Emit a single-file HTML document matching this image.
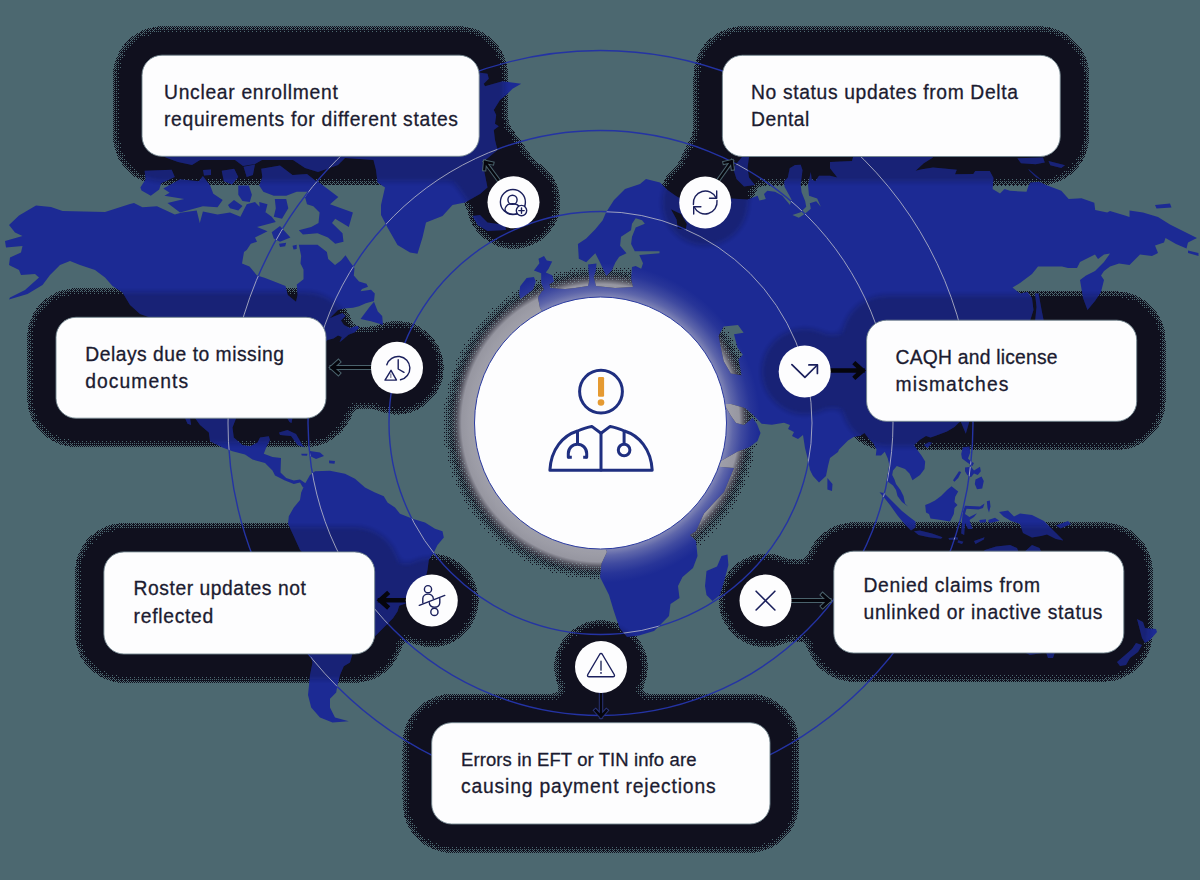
<!DOCTYPE html>
<html><head><meta charset="utf-8"><title>Diagram</title>
<style>
html,body{margin:0;padding:0;background:#4c6870;}
body{width:1200px;height:880px;overflow:hidden;font-family:"Liberation Sans",sans-serif;}
svg{display:block}
</style></head><body>
<svg width="1200" height="880" viewBox="0 0 1200 880"><defs>
<filter id="b3" x="0" y="0" width="1200" height="880" filterUnits="userSpaceOnUse" primitiveUnits="userSpaceOnUse" color-interpolation-filters="sRGB"><feGaussianBlur in="SourceAlpha" stdDeviation="5" result="bl"/><feFlood x="0" y="0" width="1" height="1" flood-color="#000" flood-opacity="0.0312" result="t00"/><feFlood x="1" y="0" width="1" height="1" flood-color="#000" flood-opacity="0.5312" result="t10"/><feFlood x="2" y="0" width="1" height="1" flood-color="#000" flood-opacity="0.1562" result="t20"/><feFlood x="3" y="0" width="1" height="1" flood-color="#000" flood-opacity="0.6562" result="t30"/><feFlood x="0" y="1" width="1" height="1" flood-color="#000" flood-opacity="0.7812" result="t01"/><feFlood x="1" y="1" width="1" height="1" flood-color="#000" flood-opacity="0.2812" result="t11"/><feFlood x="2" y="1" width="1" height="1" flood-color="#000" flood-opacity="0.9062" result="t21"/><feFlood x="3" y="1" width="1" height="1" flood-color="#000" flood-opacity="0.4062" result="t31"/><feFlood x="0" y="2" width="1" height="1" flood-color="#000" flood-opacity="0.2188" result="t02"/><feFlood x="1" y="2" width="1" height="1" flood-color="#000" flood-opacity="0.7188" result="t12"/><feFlood x="2" y="2" width="1" height="1" flood-color="#000" flood-opacity="0.0938" result="t22"/><feFlood x="3" y="2" width="1" height="1" flood-color="#000" flood-opacity="0.5938" result="t32"/><feFlood x="0" y="3" width="1" height="1" flood-color="#000" flood-opacity="0.9688" result="t03"/><feFlood x="1" y="3" width="1" height="1" flood-color="#000" flood-opacity="0.4688" result="t13"/><feFlood x="2" y="3" width="1" height="1" flood-color="#000" flood-opacity="0.8438" result="t23"/><feFlood x="3" y="3" width="1" height="1" flood-color="#000" flood-opacity="0.3438" result="t33"/><feMerge x="0" y="0" width="4" height="4" result="tile"><feMergeNode in="t00"/><feMergeNode in="t10"/><feMergeNode in="t20"/><feMergeNode in="t30"/><feMergeNode in="t01"/><feMergeNode in="t11"/><feMergeNode in="t21"/><feMergeNode in="t31"/><feMergeNode in="t02"/><feMergeNode in="t12"/><feMergeNode in="t22"/><feMergeNode in="t32"/><feMergeNode in="t03"/><feMergeNode in="t13"/><feMergeNode in="t23"/><feMergeNode in="t33"/></feMerge><feTile in="tile" x="0" y="0" width="1200" height="880" result="bayer"/><feComponentTransfer in="bl" result="rp"><feFuncA type="table" tableValues="0.000 0.000 0.000 0.000 0.000 0.000 0.000 0.000 0.000 0.000 0.500 0.518 0.536 0.554 0.571 0.589 0.607 0.625 0.643 0.661 0.679 0.696 0.714 0.732 0.750 0.768 0.786 0.804 0.821 0.839 0.857 0.875 0.893 0.911 0.929 0.946 0.964 0.982 1.000 1.000 1.000 1.000 1.000 1.000 1.000 1.000 1.000 1.000 1.000 1.000 1.000"/></feComponentTransfer><feComposite in="rp" in2="bayer" operator="arithmetic" k1="0" k2="1" k3="-1" k4="0.5" result="mix"/><feComponentTransfer in="mix" result="th"><feFuncA type="discrete" tableValues="0 1"/></feComponentTransfer><feFlood flood-color="#10101e" result="fl"/><feComposite in="fl" in2="th" operator="in"/></filter>
<filter id="b3c" x="0" y="0" width="1200" height="880" filterUnits="userSpaceOnUse" primitiveUnits="userSpaceOnUse" color-interpolation-filters="sRGB"><feGaussianBlur in="SourceAlpha" stdDeviation="8" result="bl"/><feFlood x="0" y="0" width="1" height="1" flood-color="#000" flood-opacity="0.0312" result="t00"/><feFlood x="1" y="0" width="1" height="1" flood-color="#000" flood-opacity="0.5312" result="t10"/><feFlood x="2" y="0" width="1" height="1" flood-color="#000" flood-opacity="0.1562" result="t20"/><feFlood x="3" y="0" width="1" height="1" flood-color="#000" flood-opacity="0.6562" result="t30"/><feFlood x="0" y="1" width="1" height="1" flood-color="#000" flood-opacity="0.7812" result="t01"/><feFlood x="1" y="1" width="1" height="1" flood-color="#000" flood-opacity="0.2812" result="t11"/><feFlood x="2" y="1" width="1" height="1" flood-color="#000" flood-opacity="0.9062" result="t21"/><feFlood x="3" y="1" width="1" height="1" flood-color="#000" flood-opacity="0.4062" result="t31"/><feFlood x="0" y="2" width="1" height="1" flood-color="#000" flood-opacity="0.2188" result="t02"/><feFlood x="1" y="2" width="1" height="1" flood-color="#000" flood-opacity="0.7188" result="t12"/><feFlood x="2" y="2" width="1" height="1" flood-color="#000" flood-opacity="0.0938" result="t22"/><feFlood x="3" y="2" width="1" height="1" flood-color="#000" flood-opacity="0.5938" result="t32"/><feFlood x="0" y="3" width="1" height="1" flood-color="#000" flood-opacity="0.9688" result="t03"/><feFlood x="1" y="3" width="1" height="1" flood-color="#000" flood-opacity="0.4688" result="t13"/><feFlood x="2" y="3" width="1" height="1" flood-color="#000" flood-opacity="0.8438" result="t23"/><feFlood x="3" y="3" width="1" height="1" flood-color="#000" flood-opacity="0.3438" result="t33"/><feMerge x="0" y="0" width="4" height="4" result="tile"><feMergeNode in="t00"/><feMergeNode in="t10"/><feMergeNode in="t20"/><feMergeNode in="t30"/><feMergeNode in="t01"/><feMergeNode in="t11"/><feMergeNode in="t21"/><feMergeNode in="t31"/><feMergeNode in="t02"/><feMergeNode in="t12"/><feMergeNode in="t22"/><feMergeNode in="t32"/><feMergeNode in="t03"/><feMergeNode in="t13"/><feMergeNode in="t23"/><feMergeNode in="t33"/></feMerge><feTile in="tile" x="0" y="0" width="1200" height="880" result="bayer"/><feComponentTransfer in="bl" result="rp"><feFuncA type="table" tableValues="0.000 0.000 0.000 0.000 0.000 0.000 0.000 0.013 0.040 0.067 0.094 0.121 0.148 0.175 0.202 0.229 0.256 0.283 0.310 0.337 0.364 0.391 0.418 0.445 0.472 0.499 0.527 0.554 0.581 0.608 0.635 0.662 0.689 0.716 0.743 0.770 0.797 0.824 0.851 0.878 0.905 0.932 0.959 0.986 1.000 1.000 1.000 1.000 1.000 1.000 1.000"/></feComponentTransfer><feComposite in="rp" in2="bayer" operator="arithmetic" k1="0" k2="1" k3="-1" k4="0.5" result="mix"/><feComponentTransfer in="mix" result="th"><feFuncA type="discrete" tableValues="0 1"/></feComponentTransfer><feFlood flood-color="#10101e" result="fl"/><feComposite in="fl" in2="th" operator="in"/></filter>
<filter id="b3s" x="0" y="0" width="1200" height="880" filterUnits="userSpaceOnUse" primitiveUnits="userSpaceOnUse"><feGaussianBlur stdDeviation="5"/><feComponentTransfer><feFuncA type="linear" slope="1.466" intercept="-0.233"/></feComponentTransfer></filter>
<filter id="b5" x="-20%" y="-20%" width="140%" height="140%"><feGaussianBlur stdDeviation="4"/></filter>
<clipPath id="mapclip"><path clip-rule="evenodd" d="M577.9,244.0 L586.2,238.5 L595.3,229.3 L602.7,220.2 L606.0,212.5 L614.0,200.0 L625.0,189.0 L640.0,184.0 L646.0,179.0 L660.0,182.5 L667.5,190.0 L676.0,196.0 L690.0,204.0 L710.0,206.0 L725.0,200.0 L731.0,198.6 L747.5,199.5 L757.6,195.8 L759.4,200.6 L765.8,199.1 L764.0,194.0 L767.3,190.7 L775.0,191.8 L782.3,195.8 L790.0,205.0 L791.5,199.5 L784.5,186.7 L784.2,181.2 L787.8,177.5 L789.7,168.3 L795.0,165.0 L800.7,164.7 L802.5,170.2 L800.7,184.8 L801.6,192.2 L805.2,201.3 L806.2,206.8 L800.7,212.3 L792.4,215.0 L798.8,217.8 L804.3,214.2 L810.8,208.7 L809.8,203.2 L816.2,201.3 L820.8,206.8 L817.2,198.6 L809.0,195.8 L808.0,184.8 L810.8,172.0 L811.7,179.3 L815.3,181.2 L819.0,175.7 L830.0,175.7 L837.3,177.5 L830.0,168.3 L830.0,162.0 L852.0,161.0 L853.0,157.3 L860.0,150.0 L925.0,150.0 L933.0,157.5 L923.8,163.3 L915.6,170.7 L922.0,169.2 L933.0,167.4 L944.0,168.5 L956.8,169.8 L955.0,174.3 L973.3,174.0 L975.2,171.0 L989.8,171.0 L993.5,178.0 L992.6,189.0 L1000.0,193.6 L1004.5,189.0 L1010.0,190.8 L1026.5,191.8 L1028.3,186.2 L1030.2,182.6 L1039.3,181.7 L1046.7,185.3 L1061.3,190.8 L1068.7,199.0 L1081.5,198.2 L1094.3,202.8 L1095.2,210.0 L1107.2,212.5 L1110.0,211.0 L1125.0,215.5 L1129.5,217.0 L1129.5,210.4 L1143.0,212.5 L1158.0,217.0 L1170.0,224.5 L1185.0,232.0 L1197.0,238.0 L1188.0,242.5 L1186.5,248.5 L1176.0,244.0 L1165.5,238.0 L1164.0,242.5 L1155.0,245.5 L1158.0,253.0 L1152.0,256.0 L1140.0,254.5 L1129.5,265.0 L1119.0,263.5 L1110.0,266.5 L1104.0,271.0 L1101.0,275.5 L1104.0,280.0 L1101.0,292.0 L1095.0,301.0 L1087.5,310.0 L1083.0,298.0 L1080.0,280.0 L1086.0,275.5 L1095.0,271.0 L1104.0,262.0 L1110.0,253.6 L1104.0,254.5 L1098.0,259.0 L1095.0,254.5 L1080.0,262.0 L1077.0,268.0 L1068.0,268.0 L1062.0,266.5 L1038.0,266.5 L1032.0,274.0 L1020.0,283.0 L1012.5,287.5 L1020.0,293.5 L1027.5,292.0 L1032.0,298.0 L1033.5,310.0 L1030.5,319.6 L1025.0,335.0 L1000.0,350.0 L1010.0,370.0 L990.0,390.0 L985.0,410.0 L959.0,422.5 L954.5,427.0 L947.0,431.5 L935.0,436.0 L930.5,437.5 L926.0,436.0 L920.0,439.8 L914.0,445.0 L917.0,449.5 L921.5,455.5 L925.2,461.5 L924.5,469.0 L920.0,475.0 L912.5,480.2 L909.5,473.5 L905.0,469.0 L896.8,466.0 L893.0,470.5 L892.2,475.0 L894.5,479.5 L896.0,484.0 L900.5,490.0 L903.5,496.0 L905.0,503.5 L908.0,506.5 L902.0,502.0 L897.5,496.0 L896.0,490.0 L893.0,485.5 L887.0,481.0 L887.8,475.0 L889.2,464.5 L887.8,458.5 L884.8,451.8 L881.0,455.5 L875.8,455.5 L876.5,449.5 L873.5,443.5 L869.0,439.0 L864.5,433.0 L860.0,436.0 L854.0,436.8 L848.0,440.5 L839.0,449.5 L838.0,452.0 L830.0,458.0 L828.0,466.0 L826.0,476.0 L819.0,482.5 L813.0,476.0 L810.0,470.0 L808.0,460.0 L805.0,448.0 L803.0,435.0 L798.0,439.0 L792.0,436.0 L794.0,432.0 L788.0,429.0 L790.0,425.0 L784.0,422.7 L771.8,424.7 L761.6,423.7 L752.7,414.4 L745.0,408.0 L731.0,404.0 L724.0,404.0 L731.0,416.0 L736.0,423.0 L744.0,425.0 L752.7,418.0 L757.0,424.0 L760.5,433.0 L757.5,441.0 L749.3,447.2 L737.7,451.6 L714.0,464.7 L707.6,464.0 L694.0,436.0 L681.0,411.0 L673.0,404.0 L676.0,392.0 L668.0,382.0 L640.0,384.0 L636.0,370.0 L600.0,360.0 L560.0,380.0 L545.0,385.0 L530.0,372.0 L535.0,345.0 L560.0,330.0 L548.0,320.0 L540.0,308.0 L538.0,298.0 L542.0,291.0 L550.0,288.0 L565.0,289.0 L575.0,288.0 L588.0,286.0 L590.0,278.0 L594.0,278.0 L596.0,286.0 L615.0,288.0 L633.0,287.0 L631.1,278.8 L632.0,266.9 L635.7,266.0 L641.2,268.8 L643.0,263.2 L639.3,255.0 L659.5,253.2 L659.5,251.3 L634.8,251.3 L631.1,244.0 L632.0,236.7 L635.7,227.5 L644.8,223.8 L642.1,220.2 L635.7,218.3 L632.0,223.8 L631.0,230.2 L621.0,236.7 L620.1,245.8 L626.5,253.2 L619.2,256.8 L615.5,262.3 L611.8,270.6 L606.3,276.1 L599.9,262.3 L595.3,253.2 L586.2,262.3 L578.8,258.7Z M723.7,326.6 L738.0,325.0 L743.6,332.7 L734.0,334.2 L737.4,347.4 L742.8,354.8 L738.5,359.3 L741.5,375.3 L730.9,373.6 L723.7,361.3 L720.7,347.0 L718.6,335.8Z M670.9,209.3 L681.1,213.9 L686.8,224.1 L685.7,229.8 L677.7,228.6 L676.6,219.5Z"/><path d="M19.0,215.5 L36.0,205.5 L51.0,207.0 L62.5,211.0 L105.0,212.0 L117.5,208.0 L130.0,204.0 L134.0,203.0 L142.5,207.3 L157.0,206.2 L174.8,214.6 L182.0,212.5 L196.7,210.4 L199.8,223.0 L202.9,211.5 L217.5,214.6 L230.0,212.5 L240.4,216.7 L246.7,204.2 L255.0,202.0 L263.3,210.4 L271.7,216.7 L275.8,221.9 L257.0,227.0 L267.5,231.2 L255.0,237.5 L257.0,241.7 L250.8,243.8 L246.7,250.0 L244.0,252.0 L242.0,263.5 L249.5,266.5 L257.0,275.5 L264.5,277.8 L278.0,283.0 L285.5,286.0 L287.8,295.0 L296.0,301.8 L297.5,295.0 L296.8,284.5 L303.5,279.2 L303.5,269.5 L300.5,263.5 L301.2,256.0 L298.8,244.8 L317.5,244.8 L326.9,252.0 L328.2,259.0 L335.0,265.0 L341.0,260.5 L345.5,255.2 L350.0,262.0 L354.5,268.0 L353.8,275.5 L359.0,281.5 L366.5,283.8 L368.0,286.8 L362.0,289.0 L360.5,291.2 L371.0,289.8 L374.8,293.5 L374.0,301.0 L365.8,303.2 L359.0,306.2 L353.0,307.8 L344.0,308.5 L338.0,310.0 L333.5,314.5 L329.8,318.2 L335.0,316.0 L342.5,313.0 L345.5,316.0 L341.0,320.5 L344.0,325.0 L350.0,328.0 L357.5,325.8 L359.0,328.0 L354.5,332.5 L348.5,334.8 L342.5,340.0 L339.5,342.2 L341.8,337.0 L338.0,335.5 L333.5,338.5 L327.5,340.0 L326.0,341.5 L318.0,352.0 L310.0,365.0 L300.0,380.0 L292.0,395.0 L288.0,410.0 L288.0,418.0 L292.5,418.0 L291.5,423.0 L289.5,422.0 L287.0,418.0 L283.0,412.0 L270.0,408.0 L250.0,410.0 L240.0,415.0 L236.2,418.0 L232.5,427.5 L233.8,437.5 L242.5,445.0 L250.0,446.2 L257.5,442.5 L260.0,437.5 L268.8,436.2 L270.0,440.0 L266.2,447.5 L263.8,453.8 L272.5,457.0 L281.0,458.0 L280.5,472.5 L286.2,478.0 L293.8,480.5 L300.0,479.5 L306.2,483.8 L303.0,487.5 L300.0,482.5 L293.8,484.0 L285.0,480.5 L275.0,475.5 L272.5,470.5 L265.0,463.0 L252.5,459.5 L245.0,454.5 L232.5,451.2 L222.5,447.5 L210.0,441.2 L208.8,432.5 L200.0,425.0 L195.0,418.0 L180.0,405.0 L160.0,380.0 L150.0,350.0 L148.0,330.0 L150.0,317.5 L140.0,314.0 L130.0,305.0 L122.5,292.5 L112.5,286.0 L105.0,277.5 L95.0,270.0 L80.0,265.0 L70.0,261.0 L60.0,265.0 L50.0,275.0 L42.5,285.0 L27.5,294.0 L9.0,299.5 L10.0,297.5 L25.0,290.0 L39.0,277.5 L35.0,274.0 L21.0,275.0 L19.0,270.0 L9.0,265.0 L10.0,257.5 L21.0,252.5 L22.5,246.0 L6.0,247.5 L5.0,241.0 L22.5,236.0 L15.0,232.5 L9.0,225.0Z M185.0,418.0 L190.0,418.0 L191.2,425.0 L187.5,423.8Z M144.6,170.8 L171.7,169.8 L174.8,177.0 L161.2,183.3 L159.2,189.6 L150.8,195.8 L141.5,190.6 L140.4,187.5 L145.6,179.2Z M163.3,188.5 L180.0,179.2 L198.8,181.2 L202.9,176.0 L210.2,185.4 L213.3,193.8 L222.7,200.0 L217.5,207.3 L202.9,206.2 L180.0,212.5 L167.5,203.1 L184.2,199.0 L164.4,195.8 L169.6,192.7Z M238.3,185.4 L248.8,185.4 L251.9,194.8 L249.8,202.0 L242.5,201.0 L238.3,194.8Z M228.0,205.0 L234.0,200.0 L242.5,206.0 L238.3,210.4 L230.0,208.3Z M261.2,168.8 L280.0,165.6 L292.5,175.0 L307.0,174.0 L317.5,182.3 L309.2,191.7 L296.7,191.7 L286.2,195.8 L273.8,195.8 L263.3,191.7 L259.2,185.4 L262.3,177.0Z M221.7,170.8 L234.2,168.8 L238.3,177.0 L232.0,184.4 L223.8,181.2Z M203.0,170.0 L211.0,169.5 L211.0,175.0 L204.0,175.5Z M243.5,166.7 L255.0,164.6 L252.9,175.0 L246.7,177.0Z M274.8,199.0 L286.2,199.0 L288.3,208.3 L282.0,218.8 L273.8,216.7 L275.8,208.3Z M259.2,202.0 L267.5,204.2 L265.4,212.5 L260.2,212.5Z M271.7,232.3 L280.0,226.0 L290.4,237.5 L280.0,241.7 L273.8,238.5Z M279.0,243.8 L286.2,242.7 L285.2,246.2 L280.0,246.9Z M292.5,245.8 L296.7,244.8 L296.7,249.0 L293.5,249.6Z M150.0,150.0 L372.0,150.0 L374.0,160.0 L345.0,158.0 L338.0,165.0 L318.0,172.0 L305.0,168.0 L293.0,160.0 L262.0,160.0 L255.0,164.0 L243.0,166.0 L235.0,160.0 L200.0,160.0 L192.0,165.0 L178.0,162.0 L167.0,158.0Z M305.0,196.9 L317.5,181.2 L338.3,196.9 L330.0,204.2 L352.9,212.5 L348.8,227.0 L335.2,218.8 L332.0,223.0 L342.5,233.3 L343.5,241.7 L335.2,243.8 L328.0,237.5 L317.5,233.3 L302.9,234.4 L298.8,230.2 L311.2,227.0 L318.5,223.0 L319.6,212.5 L313.3,206.2 L307.0,204.2Z M374.0,301.8 L377.8,311.5 L382.2,316.0 L383.0,325.0 L378.5,323.5 L371.0,321.2 L360.5,319.0 L365.0,313.0 L369.5,307.0Z M372.5,100.0 L400.0,68.0 L440.0,62.0 L479.0,72.5 L487.5,73.8 L488.8,78.8 L483.8,83.8 L485.0,86.2 L502.5,81.2 L521.2,83.8 L512.5,88.8 L506.2,95.0 L500.0,100.0 L493.8,110.0 L496.2,115.0 L495.0,123.8 L498.8,126.2 L493.8,130.0 L495.0,140.0 L497.5,150.0 L482.5,162.5 L485.0,175.0 L487.5,187.5 L480.0,194.0 L465.0,202.5 L452.5,205.0 L442.5,216.0 L426.0,222.5 L422.5,237.5 L417.5,253.8 L410.0,252.5 L397.5,245.0 L387.5,227.5 L381.0,215.0 L381.0,205.0 L385.0,187.5 L377.5,182.5 L376.0,170.0 L372.5,156.2Z M472.5,216.0 L480.0,215.0 L487.5,222.5 L505.0,225.0 L506.0,230.0 L487.5,231.0 L477.5,225.0Z M279.0,432.5 L287.5,430.0 L296.0,434.0 L302.5,445.0 L305.0,447.5 L297.5,445.0 L291.0,436.0 L280.0,435.0Z M310.0,451.0 L320.0,452.5 L324.0,456.0 L316.0,459.0 L310.0,456.0Z M329.0,460.5 L335.0,461.0 L334.5,463.8 L329.2,463.2Z M301.2,453.8 L307.5,453.8 L307.0,455.8 L301.8,455.5Z M305.0,483.8 L310.0,475.0 L315.0,471.2 L330.0,470.8 L345.0,473.8 L355.0,478.8 L365.0,487.5 L375.0,492.5 L383.8,496.2 L387.5,502.5 L395.0,507.5 L400.0,513.8 L412.5,518.8 L425.0,522.5 L435.0,528.8 L442.5,531.2 L443.8,537.5 L437.5,545.0 L433.8,552.5 L428.8,560.0 L427.5,570.0 L425.0,580.0 L415.0,592.5 L405.5,603.4 L399.2,605.7 L397.5,611.4 L393.0,618.2 L387.3,623.9 L374.8,636.4 L365.0,650.0 L352.5,653.8 L350.0,662.5 L343.8,666.2 L340.0,675.0 L337.5,685.0 L336.2,692.5 L330.0,698.8 L330.0,707.5 L335.0,717.5 L348.8,721.2 L332.5,722.5 L320.0,717.5 L311.2,707.5 L308.0,695.0 L310.0,675.0 L312.5,662.5 L310.0,653.8 L305.0,600.0 L302.0,552.0 L300.0,550.0 L293.8,536.2 L288.0,523.8 L288.8,516.2 L293.8,507.5 L300.0,500.0 L301.2,492.5Z M733.0,168.0 L742.0,157.0 L749.0,157.0 L747.5,168.0 L749.0,177.5 L755.0,185.0 L744.0,186.5 L736.5,179.0Z M588.0,264.5 L596.5,263.5 L596.0,270.0 L593.5,278.0 L594.0,286.0 L590.0,286.0 L589.0,276.0Z M533.9,270.6 L539.4,263.2 L538.5,258.7 L544.0,255.9 L546.8,260.5 L552.2,261.4 L548.6,268.8 L545.8,272.4 L552.2,275.2 L554.1,281.6 L549.5,284.3 L551.0,292.0 L546.8,296.0 L538.0,297.0 L544.0,290.0 L541.2,283.0 L541.2,273.3Z M520.2,286.2 L526.6,277.9 L533.9,277.0 L535.8,281.6 L533.0,289.8 L525.7,295.3 L520.2,299.0 L519.2,293.5Z M1017.3,158.2 L1043.0,157.5 L1044.8,162.4 L1035.7,164.2 L1021.0,163.3Z M1048.5,161.0 L1061.3,164.2 L1065.0,165.2 L1061.3,168.0 L1050.3,165.2Z M1028.3,168.8 L1039.3,178.0 L1041.0,180.0 L1035.7,177.0 L1029.2,170.7Z M1155.0,205.0 L1170.0,203.5 L1171.5,207.4 L1156.5,208.6Z M1188.0,250.6 L1198.5,253.0 L1198.5,256.0 L1188.0,253.0Z M1035.0,293.5 L1038.6,293.5 L1041.6,310.0 L1044.0,322.0 L1035.0,322.0 L1036.5,307.0Z M923.8,445.0 L929.0,442.0 L932.0,442.8 L927.5,448.0Z M960.5,421.0 L969.5,421.0 L965.8,433.8Z M879.5,492.2 L884.0,493.0 L893.0,502.0 L902.0,511.0 L909.5,517.0 L915.5,521.5 L915.5,527.5 L911.0,530.5 L905.0,524.5 L897.5,515.5 L890.0,505.0 L884.0,497.5Z M914.0,531.2 L920.0,530.5 L932.0,533.5 L942.5,537.2 L941.0,538.8 L929.0,537.2 L918.5,535.0Z M925.2,505.0 L929.0,503.5 L935.0,500.5 L941.0,496.0 L947.0,490.0 L951.5,486.2 L958.2,491.5 L955.2,496.8 L954.5,502.0 L957.5,505.0 L954.5,508.0 L953.8,514.0 L950.0,521.5 L941.0,520.0 L930.5,518.5 L929.0,514.0 L926.0,512.5Z M953.0,480.2 L959.0,471.2 L961.2,472.0 L958.2,478.0 L954.5,481.8Z M962.8,447.2 L969.5,446.5 L970.2,452.5 L968.0,458.5 L971.0,461.5 L974.0,463.0 L972.5,466.0 L968.0,463.0 L962.0,458.5 L961.2,454.0Z M965.0,467.5 L971.0,466.8 L974.0,470.5 L980.0,466.8 L980.8,471.2 L977.8,475.0 L974.0,473.5 L971.0,477.2 L967.2,475.0 L965.0,471.2Z M975.5,479.5 L981.5,476.5 L983.8,481.0 L982.2,488.5 L977.0,489.2 L974.8,484.0Z M965.0,505.8 L980.0,506.5 L984.5,503.5 L983.0,508.0 L978.5,509.5 L966.5,508.8 L965.0,514.0 L969.5,517.0 L977.0,513.2 L974.0,517.0 L969.5,520.0 L972.5,529.0 L968.0,529.0 L965.0,523.0 L964.2,535.0 L961.2,533.5 L962.0,520.0 L962.8,512.5Z M986.8,501.2 L989.8,500.5 L990.5,506.5 L989.0,512.5 L987.5,508.0Z M979.2,520.0 L986.0,519.2 L986.0,522.2 L980.0,522.7Z M988.2,520.0 L995.0,517.8 L999.5,520.8 L993.5,522.2 L989.0,523.0Z M948.5,538.0 L957.5,537.2 L958.2,539.5 L949.2,539.8Z M958.2,540.2 L963.5,541.8 L962.0,544.0 L957.5,542.5Z M974.0,541.0 L984.5,537.2 L983.8,539.5 L975.5,544.0Z M999.0,512.0 L1008.0,510.5 L1014.0,516.5 L1020.0,513.5 L1032.0,515.0 L1044.0,521.0 L1050.0,527.0 L1056.0,533.0 L1063.5,540.5 L1056.0,539.0 L1047.0,534.5 L1041.0,536.0 L1032.0,537.5 L1023.0,533.0 L1020.0,524.0 L1011.0,521.0 L1003.5,516.5Z M1056.0,525.5 L1068.0,521.0 L1071.0,524.0 L1060.5,528.5Z M827.4,478.0 L832.5,484.0 L832.0,491.0 L827.4,489.5Z M996.0,546.5 L1010.0,545.0 L1017.0,548.0 L1020.0,556.0 L1032.0,545.0 L1039.5,548.0 L1050.0,570.0 L1075.0,600.0 L1080.0,630.0 L1060.0,650.0 L1030.0,655.0 L1000.0,640.0 L960.0,640.0 L935.0,650.0 L930.0,610.0 L940.0,580.0 L970.0,565.0 L985.0,550.0Z M1046.0,652.0 L1055.0,652.0 L1053.0,658.0 L1048.0,658.0Z M1137.0,619.0 L1143.0,622.0 L1145.0,628.0 L1156.0,629.0 L1157.0,632.0 L1150.0,640.0 L1145.0,643.0 L1142.0,638.0Z M1136.0,643.0 L1142.0,645.0 L1138.0,652.0 L1130.0,658.0 L1126.0,665.0 L1120.0,666.0 L1117.0,662.0 L1124.0,656.0 L1132.0,649.0Z M1040.0,330.0 L1050.0,335.0 L1045.0,360.0 L1030.0,385.0 L1010.0,395.0 L1005.0,390.0 L1025.0,372.0 L1035.0,350.0Z M544.0,383.0 L560.0,378.0 L597.0,379.0 L610.0,390.0 L631.0,397.0 L664.0,400.0 L673.0,404.0 L688.0,436.0 L700.0,455.0 L708.0,466.0 L734.0,468.0 L724.0,492.0 L704.0,513.5 L696.0,531.0 L690.0,535.0 L696.0,541.0 L697.5,556.0 L693.0,568.0 L682.5,577.0 L678.0,586.0 L679.5,598.0 L670.5,604.0 L669.0,616.0 L660.0,625.0 L654.0,631.0 L639.0,635.5 L627.0,637.0 L619.5,628.0 L613.5,610.0 L609.0,595.0 L600.0,577.0 L601.5,563.5 L607.0,552.0 L598.0,530.0 L594.0,510.0 L594.0,496.0 L575.0,492.0 L551.0,492.0 L520.5,482.0 L507.0,457.0 L510.5,432.0 L530.6,407.0Z M706.5,571.0 L717.0,566.5 L721.5,556.0 L727.5,554.5 L728.4,565.0 L724.5,580.0 L720.0,595.0 L712.5,601.0 L706.5,595.0 L705.0,586.0Z"/></clipPath>
<mask id="notmap" maskUnits="userSpaceOnUse" x="0" y="0" width="1200" height="880"><rect width="1200" height="880" fill="#fff"/><path d="M577.9,244.0 L586.2,238.5 L595.3,229.3 L602.7,220.2 L606.0,212.5 L614.0,200.0 L625.0,189.0 L640.0,184.0 L646.0,179.0 L660.0,182.5 L667.5,190.0 L676.0,196.0 L690.0,204.0 L710.0,206.0 L725.0,200.0 L731.0,198.6 L747.5,199.5 L757.6,195.8 L759.4,200.6 L765.8,199.1 L764.0,194.0 L767.3,190.7 L775.0,191.8 L782.3,195.8 L790.0,205.0 L791.5,199.5 L784.5,186.7 L784.2,181.2 L787.8,177.5 L789.7,168.3 L795.0,165.0 L800.7,164.7 L802.5,170.2 L800.7,184.8 L801.6,192.2 L805.2,201.3 L806.2,206.8 L800.7,212.3 L792.4,215.0 L798.8,217.8 L804.3,214.2 L810.8,208.7 L809.8,203.2 L816.2,201.3 L820.8,206.8 L817.2,198.6 L809.0,195.8 L808.0,184.8 L810.8,172.0 L811.7,179.3 L815.3,181.2 L819.0,175.7 L830.0,175.7 L837.3,177.5 L830.0,168.3 L830.0,162.0 L852.0,161.0 L853.0,157.3 L860.0,150.0 L925.0,150.0 L933.0,157.5 L923.8,163.3 L915.6,170.7 L922.0,169.2 L933.0,167.4 L944.0,168.5 L956.8,169.8 L955.0,174.3 L973.3,174.0 L975.2,171.0 L989.8,171.0 L993.5,178.0 L992.6,189.0 L1000.0,193.6 L1004.5,189.0 L1010.0,190.8 L1026.5,191.8 L1028.3,186.2 L1030.2,182.6 L1039.3,181.7 L1046.7,185.3 L1061.3,190.8 L1068.7,199.0 L1081.5,198.2 L1094.3,202.8 L1095.2,210.0 L1107.2,212.5 L1110.0,211.0 L1125.0,215.5 L1129.5,217.0 L1129.5,210.4 L1143.0,212.5 L1158.0,217.0 L1170.0,224.5 L1185.0,232.0 L1197.0,238.0 L1188.0,242.5 L1186.5,248.5 L1176.0,244.0 L1165.5,238.0 L1164.0,242.5 L1155.0,245.5 L1158.0,253.0 L1152.0,256.0 L1140.0,254.5 L1129.5,265.0 L1119.0,263.5 L1110.0,266.5 L1104.0,271.0 L1101.0,275.5 L1104.0,280.0 L1101.0,292.0 L1095.0,301.0 L1087.5,310.0 L1083.0,298.0 L1080.0,280.0 L1086.0,275.5 L1095.0,271.0 L1104.0,262.0 L1110.0,253.6 L1104.0,254.5 L1098.0,259.0 L1095.0,254.5 L1080.0,262.0 L1077.0,268.0 L1068.0,268.0 L1062.0,266.5 L1038.0,266.5 L1032.0,274.0 L1020.0,283.0 L1012.5,287.5 L1020.0,293.5 L1027.5,292.0 L1032.0,298.0 L1033.5,310.0 L1030.5,319.6 L1025.0,335.0 L1000.0,350.0 L1010.0,370.0 L990.0,390.0 L985.0,410.0 L959.0,422.5 L954.5,427.0 L947.0,431.5 L935.0,436.0 L930.5,437.5 L926.0,436.0 L920.0,439.8 L914.0,445.0 L917.0,449.5 L921.5,455.5 L925.2,461.5 L924.5,469.0 L920.0,475.0 L912.5,480.2 L909.5,473.5 L905.0,469.0 L896.8,466.0 L893.0,470.5 L892.2,475.0 L894.5,479.5 L896.0,484.0 L900.5,490.0 L903.5,496.0 L905.0,503.5 L908.0,506.5 L902.0,502.0 L897.5,496.0 L896.0,490.0 L893.0,485.5 L887.0,481.0 L887.8,475.0 L889.2,464.5 L887.8,458.5 L884.8,451.8 L881.0,455.5 L875.8,455.5 L876.5,449.5 L873.5,443.5 L869.0,439.0 L864.5,433.0 L860.0,436.0 L854.0,436.8 L848.0,440.5 L839.0,449.5 L838.0,452.0 L830.0,458.0 L828.0,466.0 L826.0,476.0 L819.0,482.5 L813.0,476.0 L810.0,470.0 L808.0,460.0 L805.0,448.0 L803.0,435.0 L798.0,439.0 L792.0,436.0 L794.0,432.0 L788.0,429.0 L790.0,425.0 L784.0,422.7 L771.8,424.7 L761.6,423.7 L752.7,414.4 L745.0,408.0 L731.0,404.0 L724.0,404.0 L731.0,416.0 L736.0,423.0 L744.0,425.0 L752.7,418.0 L757.0,424.0 L760.5,433.0 L757.5,441.0 L749.3,447.2 L737.7,451.6 L714.0,464.7 L707.6,464.0 L694.0,436.0 L681.0,411.0 L673.0,404.0 L676.0,392.0 L668.0,382.0 L640.0,384.0 L636.0,370.0 L600.0,360.0 L560.0,380.0 L545.0,385.0 L530.0,372.0 L535.0,345.0 L560.0,330.0 L548.0,320.0 L540.0,308.0 L538.0,298.0 L542.0,291.0 L550.0,288.0 L565.0,289.0 L575.0,288.0 L588.0,286.0 L590.0,278.0 L594.0,278.0 L596.0,286.0 L615.0,288.0 L633.0,287.0 L631.1,278.8 L632.0,266.9 L635.7,266.0 L641.2,268.8 L643.0,263.2 L639.3,255.0 L659.5,253.2 L659.5,251.3 L634.8,251.3 L631.1,244.0 L632.0,236.7 L635.7,227.5 L644.8,223.8 L642.1,220.2 L635.7,218.3 L632.0,223.8 L631.0,230.2 L621.0,236.7 L620.1,245.8 L626.5,253.2 L619.2,256.8 L615.5,262.3 L611.8,270.6 L606.3,276.1 L599.9,262.3 L595.3,253.2 L586.2,262.3 L578.8,258.7Z M723.7,326.6 L738.0,325.0 L743.6,332.7 L734.0,334.2 L737.4,347.4 L742.8,354.8 L738.5,359.3 L741.5,375.3 L730.9,373.6 L723.7,361.3 L720.7,347.0 L718.6,335.8Z M670.9,209.3 L681.1,213.9 L686.8,224.1 L685.7,229.8 L677.7,228.6 L676.6,219.5Z" fill="#000" fill-rule="evenodd"/><path d="M19.0,215.5 L36.0,205.5 L51.0,207.0 L62.5,211.0 L105.0,212.0 L117.5,208.0 L130.0,204.0 L134.0,203.0 L142.5,207.3 L157.0,206.2 L174.8,214.6 L182.0,212.5 L196.7,210.4 L199.8,223.0 L202.9,211.5 L217.5,214.6 L230.0,212.5 L240.4,216.7 L246.7,204.2 L255.0,202.0 L263.3,210.4 L271.7,216.7 L275.8,221.9 L257.0,227.0 L267.5,231.2 L255.0,237.5 L257.0,241.7 L250.8,243.8 L246.7,250.0 L244.0,252.0 L242.0,263.5 L249.5,266.5 L257.0,275.5 L264.5,277.8 L278.0,283.0 L285.5,286.0 L287.8,295.0 L296.0,301.8 L297.5,295.0 L296.8,284.5 L303.5,279.2 L303.5,269.5 L300.5,263.5 L301.2,256.0 L298.8,244.8 L317.5,244.8 L326.9,252.0 L328.2,259.0 L335.0,265.0 L341.0,260.5 L345.5,255.2 L350.0,262.0 L354.5,268.0 L353.8,275.5 L359.0,281.5 L366.5,283.8 L368.0,286.8 L362.0,289.0 L360.5,291.2 L371.0,289.8 L374.8,293.5 L374.0,301.0 L365.8,303.2 L359.0,306.2 L353.0,307.8 L344.0,308.5 L338.0,310.0 L333.5,314.5 L329.8,318.2 L335.0,316.0 L342.5,313.0 L345.5,316.0 L341.0,320.5 L344.0,325.0 L350.0,328.0 L357.5,325.8 L359.0,328.0 L354.5,332.5 L348.5,334.8 L342.5,340.0 L339.5,342.2 L341.8,337.0 L338.0,335.5 L333.5,338.5 L327.5,340.0 L326.0,341.5 L318.0,352.0 L310.0,365.0 L300.0,380.0 L292.0,395.0 L288.0,410.0 L288.0,418.0 L292.5,418.0 L291.5,423.0 L289.5,422.0 L287.0,418.0 L283.0,412.0 L270.0,408.0 L250.0,410.0 L240.0,415.0 L236.2,418.0 L232.5,427.5 L233.8,437.5 L242.5,445.0 L250.0,446.2 L257.5,442.5 L260.0,437.5 L268.8,436.2 L270.0,440.0 L266.2,447.5 L263.8,453.8 L272.5,457.0 L281.0,458.0 L280.5,472.5 L286.2,478.0 L293.8,480.5 L300.0,479.5 L306.2,483.8 L303.0,487.5 L300.0,482.5 L293.8,484.0 L285.0,480.5 L275.0,475.5 L272.5,470.5 L265.0,463.0 L252.5,459.5 L245.0,454.5 L232.5,451.2 L222.5,447.5 L210.0,441.2 L208.8,432.5 L200.0,425.0 L195.0,418.0 L180.0,405.0 L160.0,380.0 L150.0,350.0 L148.0,330.0 L150.0,317.5 L140.0,314.0 L130.0,305.0 L122.5,292.5 L112.5,286.0 L105.0,277.5 L95.0,270.0 L80.0,265.0 L70.0,261.0 L60.0,265.0 L50.0,275.0 L42.5,285.0 L27.5,294.0 L9.0,299.5 L10.0,297.5 L25.0,290.0 L39.0,277.5 L35.0,274.0 L21.0,275.0 L19.0,270.0 L9.0,265.0 L10.0,257.5 L21.0,252.5 L22.5,246.0 L6.0,247.5 L5.0,241.0 L22.5,236.0 L15.0,232.5 L9.0,225.0Z M185.0,418.0 L190.0,418.0 L191.2,425.0 L187.5,423.8Z M144.6,170.8 L171.7,169.8 L174.8,177.0 L161.2,183.3 L159.2,189.6 L150.8,195.8 L141.5,190.6 L140.4,187.5 L145.6,179.2Z M163.3,188.5 L180.0,179.2 L198.8,181.2 L202.9,176.0 L210.2,185.4 L213.3,193.8 L222.7,200.0 L217.5,207.3 L202.9,206.2 L180.0,212.5 L167.5,203.1 L184.2,199.0 L164.4,195.8 L169.6,192.7Z M238.3,185.4 L248.8,185.4 L251.9,194.8 L249.8,202.0 L242.5,201.0 L238.3,194.8Z M228.0,205.0 L234.0,200.0 L242.5,206.0 L238.3,210.4 L230.0,208.3Z M261.2,168.8 L280.0,165.6 L292.5,175.0 L307.0,174.0 L317.5,182.3 L309.2,191.7 L296.7,191.7 L286.2,195.8 L273.8,195.8 L263.3,191.7 L259.2,185.4 L262.3,177.0Z M221.7,170.8 L234.2,168.8 L238.3,177.0 L232.0,184.4 L223.8,181.2Z M203.0,170.0 L211.0,169.5 L211.0,175.0 L204.0,175.5Z M243.5,166.7 L255.0,164.6 L252.9,175.0 L246.7,177.0Z M274.8,199.0 L286.2,199.0 L288.3,208.3 L282.0,218.8 L273.8,216.7 L275.8,208.3Z M259.2,202.0 L267.5,204.2 L265.4,212.5 L260.2,212.5Z M271.7,232.3 L280.0,226.0 L290.4,237.5 L280.0,241.7 L273.8,238.5Z M279.0,243.8 L286.2,242.7 L285.2,246.2 L280.0,246.9Z M292.5,245.8 L296.7,244.8 L296.7,249.0 L293.5,249.6Z M150.0,150.0 L372.0,150.0 L374.0,160.0 L345.0,158.0 L338.0,165.0 L318.0,172.0 L305.0,168.0 L293.0,160.0 L262.0,160.0 L255.0,164.0 L243.0,166.0 L235.0,160.0 L200.0,160.0 L192.0,165.0 L178.0,162.0 L167.0,158.0Z M305.0,196.9 L317.5,181.2 L338.3,196.9 L330.0,204.2 L352.9,212.5 L348.8,227.0 L335.2,218.8 L332.0,223.0 L342.5,233.3 L343.5,241.7 L335.2,243.8 L328.0,237.5 L317.5,233.3 L302.9,234.4 L298.8,230.2 L311.2,227.0 L318.5,223.0 L319.6,212.5 L313.3,206.2 L307.0,204.2Z M374.0,301.8 L377.8,311.5 L382.2,316.0 L383.0,325.0 L378.5,323.5 L371.0,321.2 L360.5,319.0 L365.0,313.0 L369.5,307.0Z M372.5,100.0 L400.0,68.0 L440.0,62.0 L479.0,72.5 L487.5,73.8 L488.8,78.8 L483.8,83.8 L485.0,86.2 L502.5,81.2 L521.2,83.8 L512.5,88.8 L506.2,95.0 L500.0,100.0 L493.8,110.0 L496.2,115.0 L495.0,123.8 L498.8,126.2 L493.8,130.0 L495.0,140.0 L497.5,150.0 L482.5,162.5 L485.0,175.0 L487.5,187.5 L480.0,194.0 L465.0,202.5 L452.5,205.0 L442.5,216.0 L426.0,222.5 L422.5,237.5 L417.5,253.8 L410.0,252.5 L397.5,245.0 L387.5,227.5 L381.0,215.0 L381.0,205.0 L385.0,187.5 L377.5,182.5 L376.0,170.0 L372.5,156.2Z M472.5,216.0 L480.0,215.0 L487.5,222.5 L505.0,225.0 L506.0,230.0 L487.5,231.0 L477.5,225.0Z M279.0,432.5 L287.5,430.0 L296.0,434.0 L302.5,445.0 L305.0,447.5 L297.5,445.0 L291.0,436.0 L280.0,435.0Z M310.0,451.0 L320.0,452.5 L324.0,456.0 L316.0,459.0 L310.0,456.0Z M329.0,460.5 L335.0,461.0 L334.5,463.8 L329.2,463.2Z M301.2,453.8 L307.5,453.8 L307.0,455.8 L301.8,455.5Z M305.0,483.8 L310.0,475.0 L315.0,471.2 L330.0,470.8 L345.0,473.8 L355.0,478.8 L365.0,487.5 L375.0,492.5 L383.8,496.2 L387.5,502.5 L395.0,507.5 L400.0,513.8 L412.5,518.8 L425.0,522.5 L435.0,528.8 L442.5,531.2 L443.8,537.5 L437.5,545.0 L433.8,552.5 L428.8,560.0 L427.5,570.0 L425.0,580.0 L415.0,592.5 L405.5,603.4 L399.2,605.7 L397.5,611.4 L393.0,618.2 L387.3,623.9 L374.8,636.4 L365.0,650.0 L352.5,653.8 L350.0,662.5 L343.8,666.2 L340.0,675.0 L337.5,685.0 L336.2,692.5 L330.0,698.8 L330.0,707.5 L335.0,717.5 L348.8,721.2 L332.5,722.5 L320.0,717.5 L311.2,707.5 L308.0,695.0 L310.0,675.0 L312.5,662.5 L310.0,653.8 L305.0,600.0 L302.0,552.0 L300.0,550.0 L293.8,536.2 L288.0,523.8 L288.8,516.2 L293.8,507.5 L300.0,500.0 L301.2,492.5Z M733.0,168.0 L742.0,157.0 L749.0,157.0 L747.5,168.0 L749.0,177.5 L755.0,185.0 L744.0,186.5 L736.5,179.0Z M588.0,264.5 L596.5,263.5 L596.0,270.0 L593.5,278.0 L594.0,286.0 L590.0,286.0 L589.0,276.0Z M533.9,270.6 L539.4,263.2 L538.5,258.7 L544.0,255.9 L546.8,260.5 L552.2,261.4 L548.6,268.8 L545.8,272.4 L552.2,275.2 L554.1,281.6 L549.5,284.3 L551.0,292.0 L546.8,296.0 L538.0,297.0 L544.0,290.0 L541.2,283.0 L541.2,273.3Z M520.2,286.2 L526.6,277.9 L533.9,277.0 L535.8,281.6 L533.0,289.8 L525.7,295.3 L520.2,299.0 L519.2,293.5Z M1017.3,158.2 L1043.0,157.5 L1044.8,162.4 L1035.7,164.2 L1021.0,163.3Z M1048.5,161.0 L1061.3,164.2 L1065.0,165.2 L1061.3,168.0 L1050.3,165.2Z M1028.3,168.8 L1039.3,178.0 L1041.0,180.0 L1035.7,177.0 L1029.2,170.7Z M1155.0,205.0 L1170.0,203.5 L1171.5,207.4 L1156.5,208.6Z M1188.0,250.6 L1198.5,253.0 L1198.5,256.0 L1188.0,253.0Z M1035.0,293.5 L1038.6,293.5 L1041.6,310.0 L1044.0,322.0 L1035.0,322.0 L1036.5,307.0Z M923.8,445.0 L929.0,442.0 L932.0,442.8 L927.5,448.0Z M960.5,421.0 L969.5,421.0 L965.8,433.8Z M879.5,492.2 L884.0,493.0 L893.0,502.0 L902.0,511.0 L909.5,517.0 L915.5,521.5 L915.5,527.5 L911.0,530.5 L905.0,524.5 L897.5,515.5 L890.0,505.0 L884.0,497.5Z M914.0,531.2 L920.0,530.5 L932.0,533.5 L942.5,537.2 L941.0,538.8 L929.0,537.2 L918.5,535.0Z M925.2,505.0 L929.0,503.5 L935.0,500.5 L941.0,496.0 L947.0,490.0 L951.5,486.2 L958.2,491.5 L955.2,496.8 L954.5,502.0 L957.5,505.0 L954.5,508.0 L953.8,514.0 L950.0,521.5 L941.0,520.0 L930.5,518.5 L929.0,514.0 L926.0,512.5Z M953.0,480.2 L959.0,471.2 L961.2,472.0 L958.2,478.0 L954.5,481.8Z M962.8,447.2 L969.5,446.5 L970.2,452.5 L968.0,458.5 L971.0,461.5 L974.0,463.0 L972.5,466.0 L968.0,463.0 L962.0,458.5 L961.2,454.0Z M965.0,467.5 L971.0,466.8 L974.0,470.5 L980.0,466.8 L980.8,471.2 L977.8,475.0 L974.0,473.5 L971.0,477.2 L967.2,475.0 L965.0,471.2Z M975.5,479.5 L981.5,476.5 L983.8,481.0 L982.2,488.5 L977.0,489.2 L974.8,484.0Z M965.0,505.8 L980.0,506.5 L984.5,503.5 L983.0,508.0 L978.5,509.5 L966.5,508.8 L965.0,514.0 L969.5,517.0 L977.0,513.2 L974.0,517.0 L969.5,520.0 L972.5,529.0 L968.0,529.0 L965.0,523.0 L964.2,535.0 L961.2,533.5 L962.0,520.0 L962.8,512.5Z M986.8,501.2 L989.8,500.5 L990.5,506.5 L989.0,512.5 L987.5,508.0Z M979.2,520.0 L986.0,519.2 L986.0,522.2 L980.0,522.7Z M988.2,520.0 L995.0,517.8 L999.5,520.8 L993.5,522.2 L989.0,523.0Z M948.5,538.0 L957.5,537.2 L958.2,539.5 L949.2,539.8Z M958.2,540.2 L963.5,541.8 L962.0,544.0 L957.5,542.5Z M974.0,541.0 L984.5,537.2 L983.8,539.5 L975.5,544.0Z M999.0,512.0 L1008.0,510.5 L1014.0,516.5 L1020.0,513.5 L1032.0,515.0 L1044.0,521.0 L1050.0,527.0 L1056.0,533.0 L1063.5,540.5 L1056.0,539.0 L1047.0,534.5 L1041.0,536.0 L1032.0,537.5 L1023.0,533.0 L1020.0,524.0 L1011.0,521.0 L1003.5,516.5Z M1056.0,525.5 L1068.0,521.0 L1071.0,524.0 L1060.5,528.5Z M827.4,478.0 L832.5,484.0 L832.0,491.0 L827.4,489.5Z M996.0,546.5 L1010.0,545.0 L1017.0,548.0 L1020.0,556.0 L1032.0,545.0 L1039.5,548.0 L1050.0,570.0 L1075.0,600.0 L1080.0,630.0 L1060.0,650.0 L1030.0,655.0 L1000.0,640.0 L960.0,640.0 L935.0,650.0 L930.0,610.0 L940.0,580.0 L970.0,565.0 L985.0,550.0Z M1046.0,652.0 L1055.0,652.0 L1053.0,658.0 L1048.0,658.0Z M1137.0,619.0 L1143.0,622.0 L1145.0,628.0 L1156.0,629.0 L1157.0,632.0 L1150.0,640.0 L1145.0,643.0 L1142.0,638.0Z M1136.0,643.0 L1142.0,645.0 L1138.0,652.0 L1130.0,658.0 L1126.0,665.0 L1120.0,666.0 L1117.0,662.0 L1124.0,656.0 L1132.0,649.0Z M1040.0,330.0 L1050.0,335.0 L1045.0,360.0 L1030.0,385.0 L1010.0,395.0 L1005.0,390.0 L1025.0,372.0 L1035.0,350.0Z M544.0,383.0 L560.0,378.0 L597.0,379.0 L610.0,390.0 L631.0,397.0 L664.0,400.0 L673.0,404.0 L688.0,436.0 L700.0,455.0 L708.0,466.0 L734.0,468.0 L724.0,492.0 L704.0,513.5 L696.0,531.0 L690.0,535.0 L696.0,541.0 L697.5,556.0 L693.0,568.0 L682.5,577.0 L678.0,586.0 L679.5,598.0 L670.5,604.0 L669.0,616.0 L660.0,625.0 L654.0,631.0 L639.0,635.5 L627.0,637.0 L619.5,628.0 L613.5,610.0 L609.0,595.0 L600.0,577.0 L601.5,563.5 L607.0,552.0 L598.0,530.0 L594.0,510.0 L594.0,496.0 L575.0,492.0 L551.0,492.0 L520.5,482.0 L507.0,457.0 L510.5,432.0 L530.6,407.0Z M706.5,571.0 L717.0,566.5 L721.5,556.0 L727.5,554.5 L728.4,565.0 L724.5,580.0 L720.0,595.0 L712.5,601.0 L706.5,595.0 L705.0,586.0Z" fill="#000"/></mask>
<radialGradient id="cdark" cx="600.5" cy="423" r="160" gradientUnits="userSpaceOnUse">
<stop offset="0.895" stop-color="#10101e" stop-opacity="1"/>
<stop offset="0.93" stop-color="#10101e" stop-opacity="0.8"/>
<stop offset="0.96" stop-color="#10101e" stop-opacity="0.45"/>
<stop offset="0.995" stop-color="#10101e" stop-opacity="0"/>
</radialGradient>
<radialGradient id="glow" cx="600.5" cy="423" r="156" gradientUnits="userSpaceOnUse">
<stop offset="0.80" stop-color="#a6a6b0" stop-opacity="0.97"/>
<stop offset="0.89" stop-color="#a6a6b0" stop-opacity="0.9"/>
<stop offset="0.925" stop-color="#a6a6b0" stop-opacity="0.4"/>
<stop offset="0.96" stop-color="#a6a6b0" stop-opacity="0"/>
</radialGradient>
<radialGradient id="glowm" cx="600.5" cy="423" r="170" gradientUnits="userSpaceOnUse">
<stop offset="0.74" stop-color="#a0a2c0" stop-opacity="0.78"/>
<stop offset="0.78" stop-color="#a0a2c0" stop-opacity="0.5"/>
<stop offset="0.83" stop-color="#a0a2c0" stop-opacity="0.27"/>
<stop offset="0.885" stop-color="#a0a2c0" stop-opacity="0.09"/>
<stop offset="0.94" stop-color="#a0a2c0" stop-opacity="0"/>
</radialGradient>
</defs><rect width="1200" height="880" fill="#4c6870"/><g filter="url(#b3)"><rect x="117" y="30.200000000000003" width="387.2" height="151.1" rx="45" fill="#10101e"/>
<rect x="697.4" y="30.299999999999997" width="387.8" height="151.2" rx="45" fill="#10101e"/>
<rect x="31" y="292.3" width="320" height="150.9" rx="45" fill="#10101e"/>
<rect x="841.6" y="295.2" width="320.1" height="151.1" rx="45" fill="#10101e"/>
<rect x="78.9" y="526.9" width="320.8" height="152.1" rx="45" fill="#10101e"/>
<rect x="808.8" y="526.2" width="340" height="151.8" rx="45" fill="#10101e"/>
<rect x="406.7" y="697.7" width="388.3" height="151.3" rx="45" fill="#10101e"/>
<circle cx="513.5" cy="202.3" r="43" fill="#10101e"/>
<circle cx="705.2" cy="202.5" r="43" fill="#10101e"/>
<circle cx="397" cy="367.8" r="43" fill="#10101e"/>
<circle cx="804.7" cy="371.4" r="43" fill="#10101e"/>
<circle cx="431.8" cy="600.6" r="43" fill="#10101e"/>
<circle cx="765.5" cy="600.6" r="43" fill="#10101e"/>
<circle cx="601" cy="666.9" r="43" fill="#10101e"/>
<line x1="513.5" y1="202.3" x2="470" y2="140" stroke="#10101e" stroke-width="74"/>
<line x1="705.2" y1="202.5" x2="735" y2="140" stroke="#10101e" stroke-width="74"/>
<line x1="397" y1="367.8" x2="320" y2="367.8" stroke="#10101e" stroke-width="74"/>
<line x1="804.7" y1="371.4" x2="870" y2="371.4" stroke="#10101e" stroke-width="74"/>
<line x1="431.8" y1="600.6" x2="370" y2="600.6" stroke="#10101e" stroke-width="74"/>
<line x1="765.5" y1="600.6" x2="840" y2="600.6" stroke="#10101e" stroke-width="74"/>
<line x1="601" y1="666.9" x2="601" y2="730" stroke="#10101e" stroke-width="74"/>
<path d="M555,700 Q575,690 580,670 H622 Q627,690 647,700 Z" fill="#10101e"/></g><g filter="url(#b3c)"><circle cx="600.5" cy="423" r="150" fill="#10101e"/></g><circle cx="600.5" cy="423" r="211.5" fill="none" stroke="#2433a4" stroke-width="1.4" opacity="1"/>
<circle cx="600.5" cy="423" r="292.5" fill="none" stroke="#2433a4" stroke-width="1.4" opacity="1"/>
<circle cx="600.5" cy="423" r="372.5" fill="none" stroke="#2433a4" stroke-width="1.4" opacity="1"/><path d="M577.9,244.0 L586.2,238.5 L595.3,229.3 L602.7,220.2 L606.0,212.5 L614.0,200.0 L625.0,189.0 L640.0,184.0 L646.0,179.0 L660.0,182.5 L667.5,190.0 L676.0,196.0 L690.0,204.0 L710.0,206.0 L725.0,200.0 L731.0,198.6 L747.5,199.5 L757.6,195.8 L759.4,200.6 L765.8,199.1 L764.0,194.0 L767.3,190.7 L775.0,191.8 L782.3,195.8 L790.0,205.0 L791.5,199.5 L784.5,186.7 L784.2,181.2 L787.8,177.5 L789.7,168.3 L795.0,165.0 L800.7,164.7 L802.5,170.2 L800.7,184.8 L801.6,192.2 L805.2,201.3 L806.2,206.8 L800.7,212.3 L792.4,215.0 L798.8,217.8 L804.3,214.2 L810.8,208.7 L809.8,203.2 L816.2,201.3 L820.8,206.8 L817.2,198.6 L809.0,195.8 L808.0,184.8 L810.8,172.0 L811.7,179.3 L815.3,181.2 L819.0,175.7 L830.0,175.7 L837.3,177.5 L830.0,168.3 L830.0,162.0 L852.0,161.0 L853.0,157.3 L860.0,150.0 L925.0,150.0 L933.0,157.5 L923.8,163.3 L915.6,170.7 L922.0,169.2 L933.0,167.4 L944.0,168.5 L956.8,169.8 L955.0,174.3 L973.3,174.0 L975.2,171.0 L989.8,171.0 L993.5,178.0 L992.6,189.0 L1000.0,193.6 L1004.5,189.0 L1010.0,190.8 L1026.5,191.8 L1028.3,186.2 L1030.2,182.6 L1039.3,181.7 L1046.7,185.3 L1061.3,190.8 L1068.7,199.0 L1081.5,198.2 L1094.3,202.8 L1095.2,210.0 L1107.2,212.5 L1110.0,211.0 L1125.0,215.5 L1129.5,217.0 L1129.5,210.4 L1143.0,212.5 L1158.0,217.0 L1170.0,224.5 L1185.0,232.0 L1197.0,238.0 L1188.0,242.5 L1186.5,248.5 L1176.0,244.0 L1165.5,238.0 L1164.0,242.5 L1155.0,245.5 L1158.0,253.0 L1152.0,256.0 L1140.0,254.5 L1129.5,265.0 L1119.0,263.5 L1110.0,266.5 L1104.0,271.0 L1101.0,275.5 L1104.0,280.0 L1101.0,292.0 L1095.0,301.0 L1087.5,310.0 L1083.0,298.0 L1080.0,280.0 L1086.0,275.5 L1095.0,271.0 L1104.0,262.0 L1110.0,253.6 L1104.0,254.5 L1098.0,259.0 L1095.0,254.5 L1080.0,262.0 L1077.0,268.0 L1068.0,268.0 L1062.0,266.5 L1038.0,266.5 L1032.0,274.0 L1020.0,283.0 L1012.5,287.5 L1020.0,293.5 L1027.5,292.0 L1032.0,298.0 L1033.5,310.0 L1030.5,319.6 L1025.0,335.0 L1000.0,350.0 L1010.0,370.0 L990.0,390.0 L985.0,410.0 L959.0,422.5 L954.5,427.0 L947.0,431.5 L935.0,436.0 L930.5,437.5 L926.0,436.0 L920.0,439.8 L914.0,445.0 L917.0,449.5 L921.5,455.5 L925.2,461.5 L924.5,469.0 L920.0,475.0 L912.5,480.2 L909.5,473.5 L905.0,469.0 L896.8,466.0 L893.0,470.5 L892.2,475.0 L894.5,479.5 L896.0,484.0 L900.5,490.0 L903.5,496.0 L905.0,503.5 L908.0,506.5 L902.0,502.0 L897.5,496.0 L896.0,490.0 L893.0,485.5 L887.0,481.0 L887.8,475.0 L889.2,464.5 L887.8,458.5 L884.8,451.8 L881.0,455.5 L875.8,455.5 L876.5,449.5 L873.5,443.5 L869.0,439.0 L864.5,433.0 L860.0,436.0 L854.0,436.8 L848.0,440.5 L839.0,449.5 L838.0,452.0 L830.0,458.0 L828.0,466.0 L826.0,476.0 L819.0,482.5 L813.0,476.0 L810.0,470.0 L808.0,460.0 L805.0,448.0 L803.0,435.0 L798.0,439.0 L792.0,436.0 L794.0,432.0 L788.0,429.0 L790.0,425.0 L784.0,422.7 L771.8,424.7 L761.6,423.7 L752.7,414.4 L745.0,408.0 L731.0,404.0 L724.0,404.0 L731.0,416.0 L736.0,423.0 L744.0,425.0 L752.7,418.0 L757.0,424.0 L760.5,433.0 L757.5,441.0 L749.3,447.2 L737.7,451.6 L714.0,464.7 L707.6,464.0 L694.0,436.0 L681.0,411.0 L673.0,404.0 L676.0,392.0 L668.0,382.0 L640.0,384.0 L636.0,370.0 L600.0,360.0 L560.0,380.0 L545.0,385.0 L530.0,372.0 L535.0,345.0 L560.0,330.0 L548.0,320.0 L540.0,308.0 L538.0,298.0 L542.0,291.0 L550.0,288.0 L565.0,289.0 L575.0,288.0 L588.0,286.0 L590.0,278.0 L594.0,278.0 L596.0,286.0 L615.0,288.0 L633.0,287.0 L631.1,278.8 L632.0,266.9 L635.7,266.0 L641.2,268.8 L643.0,263.2 L639.3,255.0 L659.5,253.2 L659.5,251.3 L634.8,251.3 L631.1,244.0 L632.0,236.7 L635.7,227.5 L644.8,223.8 L642.1,220.2 L635.7,218.3 L632.0,223.8 L631.0,230.2 L621.0,236.7 L620.1,245.8 L626.5,253.2 L619.2,256.8 L615.5,262.3 L611.8,270.6 L606.3,276.1 L599.9,262.3 L595.3,253.2 L586.2,262.3 L578.8,258.7Z M723.7,326.6 L738.0,325.0 L743.6,332.7 L734.0,334.2 L737.4,347.4 L742.8,354.8 L738.5,359.3 L741.5,375.3 L730.9,373.6 L723.7,361.3 L720.7,347.0 L718.6,335.8Z M670.9,209.3 L681.1,213.9 L686.8,224.1 L685.7,229.8 L677.7,228.6 L676.6,219.5Z" fill="#1c2a94" fill-rule="evenodd"/><path d="M19.0,215.5 L36.0,205.5 L51.0,207.0 L62.5,211.0 L105.0,212.0 L117.5,208.0 L130.0,204.0 L134.0,203.0 L142.5,207.3 L157.0,206.2 L174.8,214.6 L182.0,212.5 L196.7,210.4 L199.8,223.0 L202.9,211.5 L217.5,214.6 L230.0,212.5 L240.4,216.7 L246.7,204.2 L255.0,202.0 L263.3,210.4 L271.7,216.7 L275.8,221.9 L257.0,227.0 L267.5,231.2 L255.0,237.5 L257.0,241.7 L250.8,243.8 L246.7,250.0 L244.0,252.0 L242.0,263.5 L249.5,266.5 L257.0,275.5 L264.5,277.8 L278.0,283.0 L285.5,286.0 L287.8,295.0 L296.0,301.8 L297.5,295.0 L296.8,284.5 L303.5,279.2 L303.5,269.5 L300.5,263.5 L301.2,256.0 L298.8,244.8 L317.5,244.8 L326.9,252.0 L328.2,259.0 L335.0,265.0 L341.0,260.5 L345.5,255.2 L350.0,262.0 L354.5,268.0 L353.8,275.5 L359.0,281.5 L366.5,283.8 L368.0,286.8 L362.0,289.0 L360.5,291.2 L371.0,289.8 L374.8,293.5 L374.0,301.0 L365.8,303.2 L359.0,306.2 L353.0,307.8 L344.0,308.5 L338.0,310.0 L333.5,314.5 L329.8,318.2 L335.0,316.0 L342.5,313.0 L345.5,316.0 L341.0,320.5 L344.0,325.0 L350.0,328.0 L357.5,325.8 L359.0,328.0 L354.5,332.5 L348.5,334.8 L342.5,340.0 L339.5,342.2 L341.8,337.0 L338.0,335.5 L333.5,338.5 L327.5,340.0 L326.0,341.5 L318.0,352.0 L310.0,365.0 L300.0,380.0 L292.0,395.0 L288.0,410.0 L288.0,418.0 L292.5,418.0 L291.5,423.0 L289.5,422.0 L287.0,418.0 L283.0,412.0 L270.0,408.0 L250.0,410.0 L240.0,415.0 L236.2,418.0 L232.5,427.5 L233.8,437.5 L242.5,445.0 L250.0,446.2 L257.5,442.5 L260.0,437.5 L268.8,436.2 L270.0,440.0 L266.2,447.5 L263.8,453.8 L272.5,457.0 L281.0,458.0 L280.5,472.5 L286.2,478.0 L293.8,480.5 L300.0,479.5 L306.2,483.8 L303.0,487.5 L300.0,482.5 L293.8,484.0 L285.0,480.5 L275.0,475.5 L272.5,470.5 L265.0,463.0 L252.5,459.5 L245.0,454.5 L232.5,451.2 L222.5,447.5 L210.0,441.2 L208.8,432.5 L200.0,425.0 L195.0,418.0 L180.0,405.0 L160.0,380.0 L150.0,350.0 L148.0,330.0 L150.0,317.5 L140.0,314.0 L130.0,305.0 L122.5,292.5 L112.5,286.0 L105.0,277.5 L95.0,270.0 L80.0,265.0 L70.0,261.0 L60.0,265.0 L50.0,275.0 L42.5,285.0 L27.5,294.0 L9.0,299.5 L10.0,297.5 L25.0,290.0 L39.0,277.5 L35.0,274.0 L21.0,275.0 L19.0,270.0 L9.0,265.0 L10.0,257.5 L21.0,252.5 L22.5,246.0 L6.0,247.5 L5.0,241.0 L22.5,236.0 L15.0,232.5 L9.0,225.0Z M185.0,418.0 L190.0,418.0 L191.2,425.0 L187.5,423.8Z M144.6,170.8 L171.7,169.8 L174.8,177.0 L161.2,183.3 L159.2,189.6 L150.8,195.8 L141.5,190.6 L140.4,187.5 L145.6,179.2Z M163.3,188.5 L180.0,179.2 L198.8,181.2 L202.9,176.0 L210.2,185.4 L213.3,193.8 L222.7,200.0 L217.5,207.3 L202.9,206.2 L180.0,212.5 L167.5,203.1 L184.2,199.0 L164.4,195.8 L169.6,192.7Z M238.3,185.4 L248.8,185.4 L251.9,194.8 L249.8,202.0 L242.5,201.0 L238.3,194.8Z M228.0,205.0 L234.0,200.0 L242.5,206.0 L238.3,210.4 L230.0,208.3Z M261.2,168.8 L280.0,165.6 L292.5,175.0 L307.0,174.0 L317.5,182.3 L309.2,191.7 L296.7,191.7 L286.2,195.8 L273.8,195.8 L263.3,191.7 L259.2,185.4 L262.3,177.0Z M221.7,170.8 L234.2,168.8 L238.3,177.0 L232.0,184.4 L223.8,181.2Z M203.0,170.0 L211.0,169.5 L211.0,175.0 L204.0,175.5Z M243.5,166.7 L255.0,164.6 L252.9,175.0 L246.7,177.0Z M274.8,199.0 L286.2,199.0 L288.3,208.3 L282.0,218.8 L273.8,216.7 L275.8,208.3Z M259.2,202.0 L267.5,204.2 L265.4,212.5 L260.2,212.5Z M271.7,232.3 L280.0,226.0 L290.4,237.5 L280.0,241.7 L273.8,238.5Z M279.0,243.8 L286.2,242.7 L285.2,246.2 L280.0,246.9Z M292.5,245.8 L296.7,244.8 L296.7,249.0 L293.5,249.6Z M150.0,150.0 L372.0,150.0 L374.0,160.0 L345.0,158.0 L338.0,165.0 L318.0,172.0 L305.0,168.0 L293.0,160.0 L262.0,160.0 L255.0,164.0 L243.0,166.0 L235.0,160.0 L200.0,160.0 L192.0,165.0 L178.0,162.0 L167.0,158.0Z M305.0,196.9 L317.5,181.2 L338.3,196.9 L330.0,204.2 L352.9,212.5 L348.8,227.0 L335.2,218.8 L332.0,223.0 L342.5,233.3 L343.5,241.7 L335.2,243.8 L328.0,237.5 L317.5,233.3 L302.9,234.4 L298.8,230.2 L311.2,227.0 L318.5,223.0 L319.6,212.5 L313.3,206.2 L307.0,204.2Z M374.0,301.8 L377.8,311.5 L382.2,316.0 L383.0,325.0 L378.5,323.5 L371.0,321.2 L360.5,319.0 L365.0,313.0 L369.5,307.0Z M372.5,100.0 L400.0,68.0 L440.0,62.0 L479.0,72.5 L487.5,73.8 L488.8,78.8 L483.8,83.8 L485.0,86.2 L502.5,81.2 L521.2,83.8 L512.5,88.8 L506.2,95.0 L500.0,100.0 L493.8,110.0 L496.2,115.0 L495.0,123.8 L498.8,126.2 L493.8,130.0 L495.0,140.0 L497.5,150.0 L482.5,162.5 L485.0,175.0 L487.5,187.5 L480.0,194.0 L465.0,202.5 L452.5,205.0 L442.5,216.0 L426.0,222.5 L422.5,237.5 L417.5,253.8 L410.0,252.5 L397.5,245.0 L387.5,227.5 L381.0,215.0 L381.0,205.0 L385.0,187.5 L377.5,182.5 L376.0,170.0 L372.5,156.2Z M472.5,216.0 L480.0,215.0 L487.5,222.5 L505.0,225.0 L506.0,230.0 L487.5,231.0 L477.5,225.0Z M279.0,432.5 L287.5,430.0 L296.0,434.0 L302.5,445.0 L305.0,447.5 L297.5,445.0 L291.0,436.0 L280.0,435.0Z M310.0,451.0 L320.0,452.5 L324.0,456.0 L316.0,459.0 L310.0,456.0Z M329.0,460.5 L335.0,461.0 L334.5,463.8 L329.2,463.2Z M301.2,453.8 L307.5,453.8 L307.0,455.8 L301.8,455.5Z M305.0,483.8 L310.0,475.0 L315.0,471.2 L330.0,470.8 L345.0,473.8 L355.0,478.8 L365.0,487.5 L375.0,492.5 L383.8,496.2 L387.5,502.5 L395.0,507.5 L400.0,513.8 L412.5,518.8 L425.0,522.5 L435.0,528.8 L442.5,531.2 L443.8,537.5 L437.5,545.0 L433.8,552.5 L428.8,560.0 L427.5,570.0 L425.0,580.0 L415.0,592.5 L405.5,603.4 L399.2,605.7 L397.5,611.4 L393.0,618.2 L387.3,623.9 L374.8,636.4 L365.0,650.0 L352.5,653.8 L350.0,662.5 L343.8,666.2 L340.0,675.0 L337.5,685.0 L336.2,692.5 L330.0,698.8 L330.0,707.5 L335.0,717.5 L348.8,721.2 L332.5,722.5 L320.0,717.5 L311.2,707.5 L308.0,695.0 L310.0,675.0 L312.5,662.5 L310.0,653.8 L305.0,600.0 L302.0,552.0 L300.0,550.0 L293.8,536.2 L288.0,523.8 L288.8,516.2 L293.8,507.5 L300.0,500.0 L301.2,492.5Z M733.0,168.0 L742.0,157.0 L749.0,157.0 L747.5,168.0 L749.0,177.5 L755.0,185.0 L744.0,186.5 L736.5,179.0Z M588.0,264.5 L596.5,263.5 L596.0,270.0 L593.5,278.0 L594.0,286.0 L590.0,286.0 L589.0,276.0Z M533.9,270.6 L539.4,263.2 L538.5,258.7 L544.0,255.9 L546.8,260.5 L552.2,261.4 L548.6,268.8 L545.8,272.4 L552.2,275.2 L554.1,281.6 L549.5,284.3 L551.0,292.0 L546.8,296.0 L538.0,297.0 L544.0,290.0 L541.2,283.0 L541.2,273.3Z M520.2,286.2 L526.6,277.9 L533.9,277.0 L535.8,281.6 L533.0,289.8 L525.7,295.3 L520.2,299.0 L519.2,293.5Z M1017.3,158.2 L1043.0,157.5 L1044.8,162.4 L1035.7,164.2 L1021.0,163.3Z M1048.5,161.0 L1061.3,164.2 L1065.0,165.2 L1061.3,168.0 L1050.3,165.2Z M1028.3,168.8 L1039.3,178.0 L1041.0,180.0 L1035.7,177.0 L1029.2,170.7Z M1155.0,205.0 L1170.0,203.5 L1171.5,207.4 L1156.5,208.6Z M1188.0,250.6 L1198.5,253.0 L1198.5,256.0 L1188.0,253.0Z M1035.0,293.5 L1038.6,293.5 L1041.6,310.0 L1044.0,322.0 L1035.0,322.0 L1036.5,307.0Z M923.8,445.0 L929.0,442.0 L932.0,442.8 L927.5,448.0Z M960.5,421.0 L969.5,421.0 L965.8,433.8Z M879.5,492.2 L884.0,493.0 L893.0,502.0 L902.0,511.0 L909.5,517.0 L915.5,521.5 L915.5,527.5 L911.0,530.5 L905.0,524.5 L897.5,515.5 L890.0,505.0 L884.0,497.5Z M914.0,531.2 L920.0,530.5 L932.0,533.5 L942.5,537.2 L941.0,538.8 L929.0,537.2 L918.5,535.0Z M925.2,505.0 L929.0,503.5 L935.0,500.5 L941.0,496.0 L947.0,490.0 L951.5,486.2 L958.2,491.5 L955.2,496.8 L954.5,502.0 L957.5,505.0 L954.5,508.0 L953.8,514.0 L950.0,521.5 L941.0,520.0 L930.5,518.5 L929.0,514.0 L926.0,512.5Z M953.0,480.2 L959.0,471.2 L961.2,472.0 L958.2,478.0 L954.5,481.8Z M962.8,447.2 L969.5,446.5 L970.2,452.5 L968.0,458.5 L971.0,461.5 L974.0,463.0 L972.5,466.0 L968.0,463.0 L962.0,458.5 L961.2,454.0Z M965.0,467.5 L971.0,466.8 L974.0,470.5 L980.0,466.8 L980.8,471.2 L977.8,475.0 L974.0,473.5 L971.0,477.2 L967.2,475.0 L965.0,471.2Z M975.5,479.5 L981.5,476.5 L983.8,481.0 L982.2,488.5 L977.0,489.2 L974.8,484.0Z M965.0,505.8 L980.0,506.5 L984.5,503.5 L983.0,508.0 L978.5,509.5 L966.5,508.8 L965.0,514.0 L969.5,517.0 L977.0,513.2 L974.0,517.0 L969.5,520.0 L972.5,529.0 L968.0,529.0 L965.0,523.0 L964.2,535.0 L961.2,533.5 L962.0,520.0 L962.8,512.5Z M986.8,501.2 L989.8,500.5 L990.5,506.5 L989.0,512.5 L987.5,508.0Z M979.2,520.0 L986.0,519.2 L986.0,522.2 L980.0,522.7Z M988.2,520.0 L995.0,517.8 L999.5,520.8 L993.5,522.2 L989.0,523.0Z M948.5,538.0 L957.5,537.2 L958.2,539.5 L949.2,539.8Z M958.2,540.2 L963.5,541.8 L962.0,544.0 L957.5,542.5Z M974.0,541.0 L984.5,537.2 L983.8,539.5 L975.5,544.0Z M999.0,512.0 L1008.0,510.5 L1014.0,516.5 L1020.0,513.5 L1032.0,515.0 L1044.0,521.0 L1050.0,527.0 L1056.0,533.0 L1063.5,540.5 L1056.0,539.0 L1047.0,534.5 L1041.0,536.0 L1032.0,537.5 L1023.0,533.0 L1020.0,524.0 L1011.0,521.0 L1003.5,516.5Z M1056.0,525.5 L1068.0,521.0 L1071.0,524.0 L1060.5,528.5Z M827.4,478.0 L832.5,484.0 L832.0,491.0 L827.4,489.5Z M996.0,546.5 L1010.0,545.0 L1017.0,548.0 L1020.0,556.0 L1032.0,545.0 L1039.5,548.0 L1050.0,570.0 L1075.0,600.0 L1080.0,630.0 L1060.0,650.0 L1030.0,655.0 L1000.0,640.0 L960.0,640.0 L935.0,650.0 L930.0,610.0 L940.0,580.0 L970.0,565.0 L985.0,550.0Z M1046.0,652.0 L1055.0,652.0 L1053.0,658.0 L1048.0,658.0Z M1137.0,619.0 L1143.0,622.0 L1145.0,628.0 L1156.0,629.0 L1157.0,632.0 L1150.0,640.0 L1145.0,643.0 L1142.0,638.0Z M1136.0,643.0 L1142.0,645.0 L1138.0,652.0 L1130.0,658.0 L1126.0,665.0 L1120.0,666.0 L1117.0,662.0 L1124.0,656.0 L1132.0,649.0Z M1040.0,330.0 L1050.0,335.0 L1045.0,360.0 L1030.0,385.0 L1010.0,395.0 L1005.0,390.0 L1025.0,372.0 L1035.0,350.0Z M544.0,383.0 L560.0,378.0 L597.0,379.0 L610.0,390.0 L631.0,397.0 L664.0,400.0 L673.0,404.0 L688.0,436.0 L700.0,455.0 L708.0,466.0 L734.0,468.0 L724.0,492.0 L704.0,513.5 L696.0,531.0 L690.0,535.0 L696.0,541.0 L697.5,556.0 L693.0,568.0 L682.5,577.0 L678.0,586.0 L679.5,598.0 L670.5,604.0 L669.0,616.0 L660.0,625.0 L654.0,631.0 L639.0,635.5 L627.0,637.0 L619.5,628.0 L613.5,610.0 L609.0,595.0 L600.0,577.0 L601.5,563.5 L607.0,552.0 L598.0,530.0 L594.0,510.0 L594.0,496.0 L575.0,492.0 L551.0,492.0 L520.5,482.0 L507.0,457.0 L510.5,432.0 L530.6,407.0Z M706.5,571.0 L717.0,566.5 L721.5,556.0 L727.5,554.5 L728.4,565.0 L724.5,580.0 L720.0,595.0 L712.5,601.0 L706.5,595.0 L705.0,586.0Z" fill="#1c2a94"/><g clip-path="url(#mapclip)"><g filter="url(#b3s)" opacity="0.25"><rect x="117" y="30.200000000000003" width="387.2" height="151.1" rx="45" fill="#10101e"/>
<rect x="697.4" y="30.299999999999997" width="387.8" height="151.2" rx="45" fill="#10101e"/>
<rect x="31" y="292.3" width="320" height="150.9" rx="45" fill="#10101e"/>
<rect x="841.6" y="295.2" width="320.1" height="151.1" rx="45" fill="#10101e"/>
<rect x="78.9" y="526.9" width="320.8" height="152.1" rx="45" fill="#10101e"/>
<rect x="808.8" y="526.2" width="340" height="151.8" rx="45" fill="#10101e"/>
<rect x="406.7" y="697.7" width="388.3" height="151.3" rx="45" fill="#10101e"/>
<circle cx="513.5" cy="202.3" r="43" fill="#10101e"/>
<circle cx="705.2" cy="202.5" r="43" fill="#10101e"/>
<circle cx="397" cy="367.8" r="43" fill="#10101e"/>
<circle cx="804.7" cy="371.4" r="43" fill="#10101e"/>
<circle cx="431.8" cy="600.6" r="43" fill="#10101e"/>
<circle cx="765.5" cy="600.6" r="43" fill="#10101e"/>
<circle cx="601" cy="666.9" r="43" fill="#10101e"/>
<line x1="513.5" y1="202.3" x2="470" y2="140" stroke="#10101e" stroke-width="74"/>
<line x1="705.2" y1="202.5" x2="735" y2="140" stroke="#10101e" stroke-width="74"/>
<line x1="397" y1="367.8" x2="320" y2="367.8" stroke="#10101e" stroke-width="74"/>
<line x1="804.7" y1="371.4" x2="870" y2="371.4" stroke="#10101e" stroke-width="74"/>
<line x1="431.8" y1="600.6" x2="370" y2="600.6" stroke="#10101e" stroke-width="74"/>
<line x1="765.5" y1="600.6" x2="840" y2="600.6" stroke="#10101e" stroke-width="74"/>
<line x1="601" y1="666.9" x2="601" y2="730" stroke="#10101e" stroke-width="74"/>
<path d="M555,700 Q575,690 580,670 H622 Q627,690 647,700 Z" fill="#10101e"/></g><circle cx="600.5" cy="423" r="211.5" fill="none" stroke="#b4b6c8" stroke-width="1.0" opacity="0.85"/>
<circle cx="600.5" cy="423" r="292.5" fill="none" stroke="#b4b6c8" stroke-width="1.0" opacity="0.85"/>
<circle cx="600.5" cy="423" r="372.5" fill="none" stroke="#b4b6c8" stroke-width="1.0" opacity="0.85"/></g><circle cx="600.5" cy="423" r="156" fill="url(#glow)" mask="url(#notmap)"/><circle cx="600.5" cy="423" r="170" fill="url(#glowm)" clip-path="url(#mapclip)"/><circle cx="600.5" cy="423" r="126" fill="#fdfdfe" stroke="#2a3aa0" stroke-width="1"/><path d="M498.6,180.3 L485.0,161.8 M492.3,163.3 L485.0,161.8 L484.3,169.3" fill="none" stroke="#4a626c" stroke-width="4.2" stroke-linecap="square" stroke-linejoin="miter"/><path d="M498.6,180.3 L485.0,161.8 M492.3,163.3 L485.0,161.8 L484.3,169.3" fill="none" stroke="#05050c" stroke-width="2.2" stroke-linecap="square" stroke-linejoin="miter"/><path d="M718.6,179.8 L731.8,161.2 M732.7,168.6 L731.8,161.2 L724.5,162.8" fill="none" stroke="#4a626c" stroke-width="4.2" stroke-linecap="square" stroke-linejoin="miter"/><path d="M718.6,179.8 L731.8,161.2 M732.7,168.6 L731.8,161.2 L724.5,162.8" fill="none" stroke="#05050c" stroke-width="2.2" stroke-linecap="square" stroke-linejoin="miter"/><path d="M370.6,367.5 L332.0,367.5 M338.3,361.8 L332.0,367.5 L338.3,373.2" fill="none" stroke="#4a626c" stroke-width="5.0" stroke-linecap="square" stroke-linejoin="miter"/><path d="M370.6,367.5 L332.0,367.5 M338.3,361.8 L332.0,367.5 L338.3,373.2" fill="none" stroke="#05050c" stroke-width="3.0" stroke-linecap="square" stroke-linejoin="miter"/><path d="M830.5,370.5 L862.5,370.5 M855.5,376.8 L862.5,370.5 L855.5,364.2" fill="none" stroke="#05050c" stroke-width="4.6" stroke-linecap="square" stroke-linejoin="miter"/><path d="M405.5,600.2 L380.0,600.2 M387.0,593.9 L380.0,600.2 L387.0,606.5" fill="none" stroke="#05050c" stroke-width="4.6" stroke-linecap="square" stroke-linejoin="miter"/><path d="M791.6,600.6 L829.0,600.6 M822.7,606.3 L829.0,600.6 L822.7,594.9" fill="none" stroke="#4a626c" stroke-width="5.0" stroke-linecap="square" stroke-linejoin="miter"/><path d="M791.6,600.6 L829.0,600.6 M822.7,606.3 L829.0,600.6 L822.7,594.9" fill="none" stroke="#05050c" stroke-width="3.0" stroke-linecap="square" stroke-linejoin="miter"/><path d="M601.0,693.5 L601.0,716.5 M595.6,710.5 L601.0,716.5 L606.4,710.5" fill="none" stroke="#2a3478" stroke-width="4.4" stroke-linecap="square" stroke-linejoin="miter"/><path d="M601.0,693.5 L601.0,716.5 M595.6,710.5 L601.0,716.5 L606.4,710.5" fill="none" stroke="#05050c" stroke-width="2.4" stroke-linecap="square" stroke-linejoin="miter"/><rect x="142" y="55.2" width="337.2" height="101.1" rx="20" fill="#fdfdfe" stroke="#73868f" stroke-width="0.9"/><text x="164" y="99.1" textLength="173.75" lengthAdjust="spacing" font-family="Liberation Sans, sans-serif" font-size="19.30" fill="#1b1b30" stroke="#1b1b30" stroke-width="0.3">Unclear enrollment</text><text x="164" y="126.2" textLength="294" lengthAdjust="spacing" font-family="Liberation Sans, sans-serif" font-size="19.30" fill="#1b1b30" stroke="#1b1b30" stroke-width="0.3">requirements for different states</text><rect x="722.4" y="55.3" width="337.8" height="101.2" rx="20" fill="#fdfdfe" stroke="#73868f" stroke-width="0.9"/><text x="751" y="99.0" textLength="266.9" lengthAdjust="spacing" font-family="Liberation Sans, sans-serif" font-size="19.30" fill="#1b1b30" stroke="#1b1b30" stroke-width="0.3">No status updates from Delta</text><text x="751" y="126.1" textLength="58.3" lengthAdjust="spacing" font-family="Liberation Sans, sans-serif" font-size="19.30" fill="#1b1b30" stroke="#1b1b30" stroke-width="0.3">Dental</text><rect x="56" y="317.3" width="270" height="100.9" rx="20" fill="#fdfdfe" stroke="#73868f" stroke-width="0.9"/><text x="85.2" y="360.7" textLength="198.8" lengthAdjust="spacing" font-family="Liberation Sans, sans-serif" font-size="19.30" fill="#1b1b30" stroke="#1b1b30" stroke-width="0.3">Delays due to missing</text><text x="85.2" y="387.8" textLength="103" lengthAdjust="spacing" font-family="Liberation Sans, sans-serif" font-size="19.30" fill="#1b1b30" stroke="#1b1b30" stroke-width="0.3">documents</text><rect x="866.6" y="320.2" width="270.1" height="101.1" rx="20" fill="#fdfdfe" stroke="#73868f" stroke-width="0.9"/><text x="895.6" y="363.7" textLength="162" lengthAdjust="spacing" font-family="Liberation Sans, sans-serif" font-size="19.30" fill="#1b1b30" stroke="#1b1b30" stroke-width="0.3">CAQH and license</text><text x="895.6" y="390.8" textLength="112.8" lengthAdjust="spacing" font-family="Liberation Sans, sans-serif" font-size="19.30" fill="#1b1b30" stroke="#1b1b30" stroke-width="0.3">mismatches</text><rect x="103.9" y="551.9" width="270.8" height="102.1" rx="20" fill="#fdfdfe" stroke="#73868f" stroke-width="0.9"/><text x="133.6" y="595.4" textLength="172.2" lengthAdjust="spacing" font-family="Liberation Sans, sans-serif" font-size="19.30" fill="#1b1b30" stroke="#1b1b30" stroke-width="0.3">Roster updates not</text><text x="133.6" y="622.5" textLength="79.6" lengthAdjust="spacing" font-family="Liberation Sans, sans-serif" font-size="19.30" fill="#1b1b30" stroke="#1b1b30" stroke-width="0.3">reflected</text><rect x="833.8" y="551.2" width="290" height="101.8" rx="20" fill="#fdfdfe" stroke="#73868f" stroke-width="0.9"/><text x="863.5" y="592.0" textLength="176.5" lengthAdjust="spacing" font-family="Liberation Sans, sans-serif" font-size="19.30" fill="#1b1b30" stroke="#1b1b30" stroke-width="0.3">Denied claims from</text><text x="863.5" y="619.1" textLength="239" lengthAdjust="spacing" font-family="Liberation Sans, sans-serif" font-size="19.30" fill="#1b1b30" stroke="#1b1b30" stroke-width="0.3">unlinked or inactive status</text><rect x="431.7" y="722.7" width="338.3" height="101.3" rx="20" fill="#fdfdfe" stroke="#73868f" stroke-width="0.9"/><text x="461" y="766.2" textLength="235.4" lengthAdjust="spacing" font-family="Liberation Sans, sans-serif" font-size="18.45" fill="#1b1b30" stroke="#1b1b30" stroke-width="0.3">Errors in EFT or TIN info are</text><text x="461" y="793.3" textLength="254.6" lengthAdjust="spacing" font-family="Liberation Sans, sans-serif" font-size="19.30" fill="#1b1b30" stroke="#1b1b30" stroke-width="0.3">causing payment rejections</text><circle cx="513.5" cy="202.3" r="26" fill="#fdfdfe"/><circle cx="705.2" cy="202.5" r="26" fill="#fdfdfe"/><circle cx="397" cy="367.8" r="26" fill="#fdfdfe"/><circle cx="804.7" cy="371.4" r="26" fill="#fdfdfe"/><circle cx="431.8" cy="600.6" r="26" fill="#fdfdfe"/><circle cx="765.5" cy="600.6" r="26" fill="#fdfdfe"/><circle cx="601" cy="666.9" r="26" fill="#fdfdfe"/><g transform="translate(513.5,202.3)" fill="none" stroke="#1a1f5c" stroke-width="1.4" stroke-linecap="round" stroke-linejoin="round"><circle cx="-0.6" cy="-0.3" r="12.5"/><circle cx="-1" cy="-2.5" r="4.6"/>
<path d="M-8.5,8.5 C-8.5,2 -4.5,1.5 -1,1.5 C2.5,1.5 5,2.5 6,5"/><path d="M-8.5,8.5 C-6,11.5 -1,13 3,11.5"/>
<circle cx="8" cy="8.3" r="5.2" fill="#fdfdfe"/><path d="M8,5.6 V11 M5.3,8.3 H10.7"/></g><g transform="translate(705.2,202.5)" fill="none" stroke="#1a1f5c" stroke-width="1.4" stroke-linecap="round" stroke-linejoin="round"><path d="M-11.8,2 A12,12 0 0 1 11,-4.5"/><path d="M11.8,-2 A12,12 0 0 1 -11,4.5"/>
<path d="M11.5,-11.5 V-4.3 H4.3"/><path d="M-11.5,11.5 V4.3 H-4.3"/></g><g transform="translate(397,367.8)" fill="none" stroke="#1a1f5c" stroke-width="1.4" stroke-linecap="round" stroke-linejoin="round"><path d="M-10.2,-3 A11.8,11.8 0 1 1 3.5,12"/><path d="M1.2,-8 V1.2 L7,4.5"/>
<path d="M-6,2.5 L-12,12.3 H-0.5 Z" fill="#fdfdfe"/><path d="M-6.2,6.2 V9.6" stroke="#8a8aa0"/></g><g transform="translate(804.7,371.4)" fill="none" stroke="#1a1f5c" stroke-width="1.4" stroke-linecap="round" stroke-linejoin="round"><path d="M-12.8,-6.8 L0.2,6 L12.6,-6.4" stroke-width="1.7"/><path d="M4.2,-6.5 H12.7 V2" stroke-width="1.7"/></g><g transform="translate(431.8,600.6)" fill="none" stroke="#1a1f5c" stroke-width="1.4" stroke-linecap="round" stroke-linejoin="round"><circle cx="-3.8" cy="-11.4" r="3.6"/><path d="M-9,2.3 V-2 C-9,-8 1.5,-8 1.5,-2"/>
<circle cx="2.6" cy="11.3" r="3.6"/><path d="M8,-2.2 V2.2 C8,8 -2.5,8 -2.5,2.2"/>
<path d="M-12.5,4.8 L13,-5.2"/></g><g transform="translate(765.5,600.6)" fill="none" stroke="#1a1f5c" stroke-width="1.4" stroke-linecap="round" stroke-linejoin="round"><path d="M-9.4,-9.4 L9.4,9.4 M9.4,-9.4 L-9.4,9.4" stroke-width="1.6"/></g><g transform="translate(601,666.9)" fill="none" stroke="#1a1f5c" stroke-width="1.4" stroke-linecap="round" stroke-linejoin="round"><path d="M-1.4,-12.4 Q0,-14.6 1.4,-12.4 L13.2,7.6 Q14.2,9.8 11.8,9.8 H-11.8 Q-14.2,9.8 -13.2,7.6 Z"/>
<path d="M0,-5.5 V3" stroke="#555a80" stroke-width="1.8"/><circle cx="0" cy="6" r="0.9" fill="#1a1f5c" stroke="none"/></g><g fill="none" stroke="#1f2f80" stroke-width="3.0" stroke-linejoin="round" stroke-linecap="round">
<circle cx="601" cy="391.6" r="21.4"/>
<path d="M549.9,470.2 C551,449 563,435.5 577.5,431 C583,428.6 588,427 591.8,426.4 L601,433.2 L610.2,426.4 C614,427 619,428.6 624.5,431 C639,435.5 651,449 652.2,470.2 Z"/>
<path d="M601,433.2 V470"/>
<path d="M577.5,431.6 V443.5"/><path d="M568.3,457.3 V453.4 A9.2,9.2 0 0 1 586.7,453.4 V457.3"/>
<path d="M568.3,457.3 H571.8 M586.7,457.3 H583.2" stroke-linecap="butt"/>
<path d="M624.1,431.4 V443.6"/><circle cx="624.1" cy="450" r="5.8"/>
</g>
<rect x="598" y="377" width="6.1" height="19.8" rx="1.2" fill="#e59a32"/><circle cx="601" cy="402.5" r="3.3" fill="#e59a32"/></svg>
</body></html>
